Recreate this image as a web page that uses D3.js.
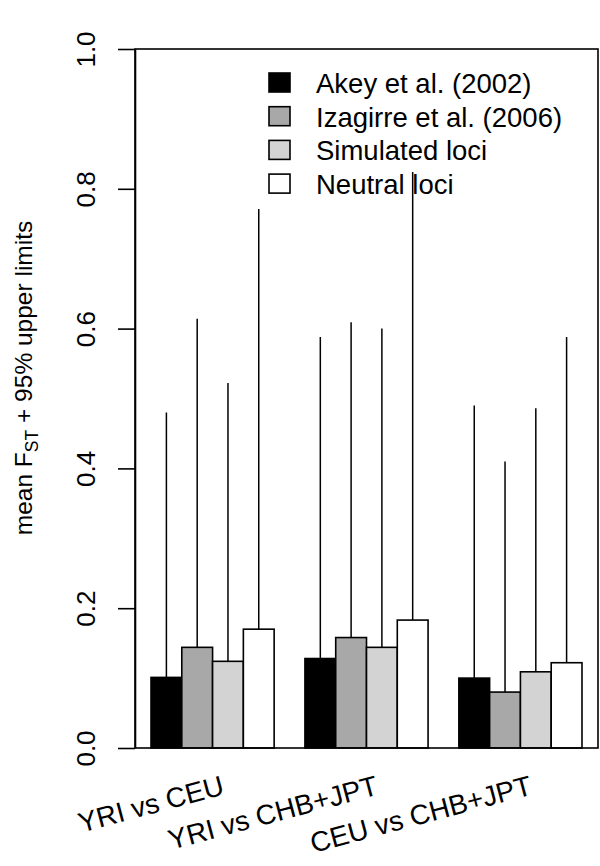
<!DOCTYPE html>
<html>
<head>
<meta charset="utf-8">
<script src="https://cdn.jsdelivr.net/npm/d3@7"></script>
<style>
  html, body { margin: 0; padding: 0; background: #fff; }
  svg { display: block; font-family: "Liberation Sans", Arial, Helvetica, sans-serif; }
</style>
</head>
<body>
<svg id="chart" width="600" height="866"></svg>
<script>
// ---- data ----
const categories = ["YRI vs CEU", "YRI vs CHB+JPT", "CEU vs CHB+JPT"];
const seriesNames = ["Akey et al. (2002)", "Izagirre et al. (2006)", "Simulated loci", "Neutral loci"];
const seriesColors = ["#000000", "#a8a8a8", "#d3d3d3", "#ffffff"];
// mean FST per category for each series
const meanAkey      = [0.101, 0.128, 0.100];
const meanIzagirre  = [0.144, 0.158, 0.080];
const meanSimulated = [0.124, 0.144, 0.109];
const meanNeutral   = [0.170, 0.183, 0.122];
// 95% upper limits
const upperAkey      = [0.480, 0.588, 0.490];
const upperIzagirre  = [0.614, 0.609, 0.410];
const upperSimulated = [0.522, 0.600, 0.486];
const upperNeutral   = [0.771, 0.824, 0.588];
const yTicks = [0.0, 0.2, 0.4, 0.6, 0.8, 1.0];

const means = [meanAkey, meanIzagirre, meanSimulated, meanNeutral];
const uppers = [upperAkey, upperIzagirre, upperSimulated, upperNeutral];

const rows = [];
categories.forEach((c, ci) => {
  seriesNames.forEach((s, si) => {
    rows.push({cat: c, series: s, si: si, mean: means[si][ci], upper: uppers[si][ci]});
  });
});

// ---- layout ----
const svg = d3.select("#chart");
const plotLeft = 135, plotRight = 598, plotTop = 49, plotBottom = 748;

const x0 = d3.scaleBand().domain(categories).range([plotLeft, plotRight]).paddingInner(0.2).paddingOuter(0.104);
const x1 = d3.scaleBand().domain(seriesNames).range([0, x0.bandwidth()]).padding(0);
const y = d3.scaleLinear().domain([0, 1]).range([plotBottom, plotTop]);
const color = d3.scaleOrdinal().domain(seriesNames).range(seriesColors);

// bars
const g = svg.append("g");
g.selectAll("rect.bar").data(rows).join("rect")
  .attr("class", "bar")
  .attr("x", d => x0(d.cat) + x1(d.series))
  .attr("y", d => y(d.mean))
  .attr("width", x1.bandwidth())
  .attr("height", d => y(0) - y(d.mean))
  .attr("fill", d => color(d.series))
  .attr("stroke", "#000")
  .attr("stroke-width", 1.6);

// upper-limit lines
g.selectAll("line.err").data(rows).join("line")
  .attr("class", "err")
  .attr("x1", d => x0(d.cat) + x1(d.series) + x1.bandwidth() / 2)
  .attr("x2", d => x0(d.cat) + x1(d.series) + x1.bandwidth() / 2)
  .attr("y1", d => y(d.mean))
  .attr("y2", d => y(d.upper))
  .attr("stroke", "#000")
  .attr("stroke-width", 1.5);

// frame
svg.append("rect")
  .attr("x", plotLeft).attr("y", y(1))
  .attr("width", plotRight - plotLeft).attr("height", y(0) - y(1))
  .attr("fill", "none").attr("stroke", "#000").attr("stroke-width", 1.6);

// y axis
const yAxis = d3.axisLeft(y).tickValues(yTicks).tickFormat(d3.format(".1f"))
  .tickSize(17).tickSizeOuter(0).tickPadding(0);
const ay = svg.append("g").attr("transform", `translate(${plotLeft},0)`).call(yAxis);
ay.select(".domain").attr("stroke-width", 1.6);
ay.selectAll(".tick line").attr("stroke-width", 1.6);
ay.selectAll(".tick text")
  .attr("x", null).attr("dy", null)
  .attr("text-anchor", "middle")
  .attr("transform", "translate(-40,0) rotate(-90)")
  .attr("font-size", 26)
  .attr("fill", "#000")
  .attr("font-family", "Liberation Sans, Arial, sans-serif");

// y title
const title = svg.append("text")
  .attr("transform", "translate(32,378) rotate(-90)")
  .attr("text-anchor", "middle")
  .attr("font-size", 24.5)
  .attr("fill", "#000");
title.append("tspan").text("mean F");
title.append("tspan").attr("font-size", 17.5).attr("dy", 6).text("ST");
title.append("tspan").attr("dy", -6).text(" + 95% upper limits");

// category labels
svg.append("g").selectAll("text").data(categories).join("text")
  .attr("transform", d => `translate(${x0(d) + x0.bandwidth() / 2 + 13},794) rotate(-15)`)
  .attr("text-anchor", "end")
  .attr("font-size", 28)
  .attr("fill", "#000")
  .text(d => d);

// legend
const leg = svg.append("g").attr("transform", "translate(269,73)");
const li = leg.selectAll("g").data(seriesNames).join("g")
  .attr("transform", (d, i) => `translate(0,${i * 33.7})`);
li.append("rect")
  .attr("width", 21).attr("height", 19)
  .attr("fill", d => color(d))
  .attr("stroke", "#000").attr("stroke-width", 1.6);
li.append("text")
  .attr("x", 47).attr("y", 20)
  .attr("font-size", 27.5)
  .attr("fill", "#000")
  .text(d => d);
</script>
</body>
</html>
